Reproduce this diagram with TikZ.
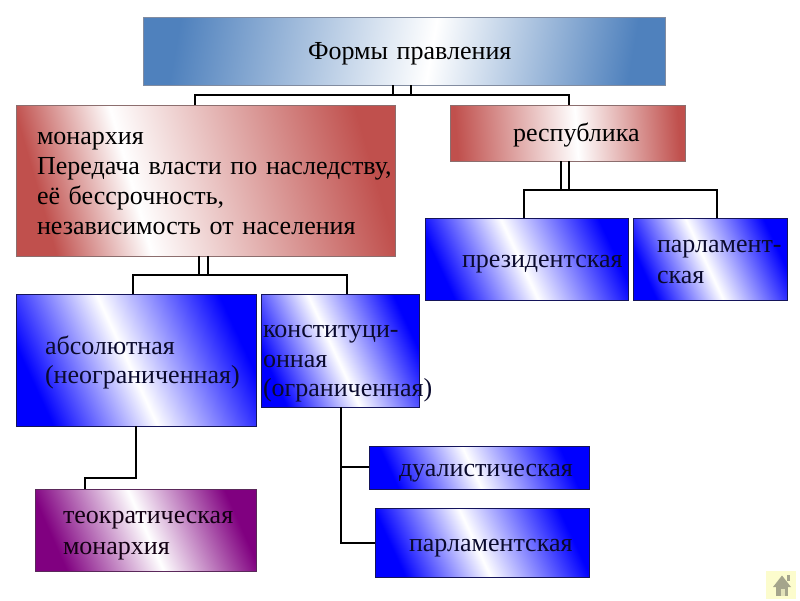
\documentclass[tikz,border=0pt]{standalone}
\usepackage{fontspec}
\setmainfont{Liberation Serif}
\definecolor{tblue}{RGB}{79,129,189}
\definecolor{mred}{RGB}{192,80,77}
\definecolor{bblue}{RGB}{0,0,255}
\definecolor{purp}{RGB}{128,0,128}
\definecolor{tborder}{RGB}{130,140,160}
\definecolor{rborder}{RGB}{140,110,110}
\definecolor{nborder}{RGB}{20,20,90}
\definecolor{pborder}{RGB}{90,40,90}
\definecolor{btext}{RGB}{10,10,45}
\definecolor{homebg}{RGB}{252,252,205}
\definecolor{homeg}{RGB}{165,165,140}
\pgfdeclarehorizontalshading{titleS}{100bp}{color(0bp)=(tblue); color(25bp)=(tblue); color(53bp)=(white); color(75bp)=(tblue); color(100bp)=(tblue)}
\pgfdeclarehorizontalshading{monS}{100bp}{color(0bp)=(mred); color(25bp)=(mred); color(39bp)=(white); color(75bp)=(mred); color(100bp)=(mred)}
\pgfdeclarehorizontalshading{repS}{100bp}{color(0bp)=(mred); color(25bp)=(mred); color(52bp)=(white); color(75bp)=(mred); color(100bp)=(mred)}
\pgfdeclarehorizontalshading{blueS}{100bp}{color(0bp)=(bblue); color(25bp)=(bblue); color(48bp)=(white); color(75bp)=(bblue); color(100bp)=(bblue)}
\pgfdeclarehorizontalshading{purpS}{100bp}{color(0bp)=(purp); color(25bp)=(purp); color(50bp)=(white); color(75bp)=(purp); color(100bp)=(purp)}
\newcommand{\lnst}{\rule[-5.5pt]{0pt}{29pt}}
\tikzset{
  box/.style={rectangle, inner sep=0pt, line width=0.8pt, align=left,
    font={\fontsize{26pt}{29pt}\selectfont}},
  titlebox/.style={box, shading=titleS, shading angle=-10, draw=tborder},
  monbox/.style={box, shading=monS, shading angle=16, draw=rborder},
  repbox/.style={box, shading=repS, shading angle=4, draw=rborder},
  bluebox/.style={box, shading=blueS, shading angle=25, draw=nborder, text=btext},
  purpbox/.style={box, shading=purpS, shading angle=24, draw=pborder, text=black!85!purp},
  conn/.style={line width=1.2pt, black},
}
\begin{document}
\begin{tikzpicture}[x=1pt,y=-1pt]
\useasboundingbox (0,0) rectangle (800,600);
\fill[white] (0,0) rectangle (800,600);
% boxes
\node[titlebox, minimum width=522pt, minimum height=68pt, text width=192pt] (title) at (404,51) {\lnst\mbox{Формы правления}};
\node[monbox, minimum width=379pt, minimum height=151pt, text width=337pt] (monarchy) at (205.5,180.5)
  {\lnst\mbox{монархия}\\\lnst\mbox{Передача власти по наследству,}\\\lnst\mbox{её бессрочность,}\\\lnst\mbox{независимость от населения}};
\node[repbox, minimum width=235pt, minimum height=56pt, text width=109pt] (republic) at (567.5,133) {\lnst\mbox{республика}};
\node[bluebox, minimum width=203pt, minimum height=82pt, text width=129pt] (pres) at (526.5,259) {\lnst\mbox{президентская}};
\node[bluebox, minimum width=154pt, minimum height=82pt, text width=106pt] (parlA) at (710,259) {\lnst\mbox{парламент-}\\\lnst\mbox{ская}};
\node[bluebox, minimum width=240pt, minimum height=132pt, text width=182pt] (abs) at (136,360) {\lnst\mbox{абсолютная}\\\lnst\mbox{(неограниченная)}};
\node[bluebox, minimum width=158pt, minimum height=113pt, text width=154pt] (const) at (340,350.5) {\rule[-5.5pt]{0pt}{44pt}\mbox{конституци-}\\\lnst\mbox{онная}\\\lnst\mbox{(ограниченная)}};
\node[purpbox, minimum width=221pt, minimum height=82pt, text width=165pt] (teo) at (145.5,530) {\lnst\mbox{теократическая}\\\lnst\mbox{монархия}};
\node[bluebox, minimum width=220pt, minimum height=43pt, text width=160pt] (dual) at (479,467.5) {\lnst\mbox{дуалистическая}};
\node[bluebox, minimum width=214pt, minimum height=69pt, text width=146pt] (parlB) at (482,542.5) {\lnst\mbox{парламентская}};
% connectors: title
\coordinate (tA) at (393,95); \coordinate (tB) at (411,95);
\coordinate (mTop) at (195,95); \coordinate (rTop) at (569,95);
\draw[conn] (title.south -| tA) -- (tA);
\draw[conn] (title.south -| tB) -- (tB);
\draw[conn] (monarchy.north -| mTop) -- (mTop) -- (rTop) -- (republic.north -| rTop);
% monarchy children
\coordinate (mA) at (199,275); \coordinate (mB) at (208,275);
\coordinate (aTop) at (133,275); \coordinate (cTop) at (347,275);
\draw[conn] (monarchy.south -| mA) -- (mA);
\draw[conn] (monarchy.south -| mB) -- (mB);
\draw[conn] (abs.north -| aTop) -- (aTop) -- (cTop) -- (const.north -| cTop);
% republic children
\coordinate (rA) at (561,190); \coordinate (rB) at (569,190);
\coordinate (pTop) at (524,190); \coordinate (qTop) at (717,190);
\draw[conn] (republic.south -| rA) -- (rA);
\draw[conn] (republic.south -| rB) -- (rB);
\draw[conn] (pres.north -| pTop) -- (pTop) -- (qTop) -- (parlA.north -| qTop);
% absolute -> theocratic
\coordinate (aB) at (136,478); \coordinate (tT) at (85,478);
\draw[conn] (abs.south -| aB) -- (aB) -- (tT) -- (teo.north -| tT);
% constitutional -> dual, parliamentary
\coordinate (cB) at (341,467); \coordinate (cC) at (341,543);
\draw[conn] (const.south -| cB) -- (cC) -- (parlB.west |- cC);
\draw[conn] (cB) -- (dual.west |- cB);
% home button
\fill[homebg] (766,571) rectangle (796,599);
\fill[homeg] (773,587) -- (782,575.5) -- (791,587) -- cycle;
\fill[homeg] (787,575) rectangle (789.5,581);
\fill[homeg] (776,586) rectangle (788,596);
\fill[homebg!70!homeg] (781,589) rectangle (784.5,596);
\end{tikzpicture}
\end{document}
